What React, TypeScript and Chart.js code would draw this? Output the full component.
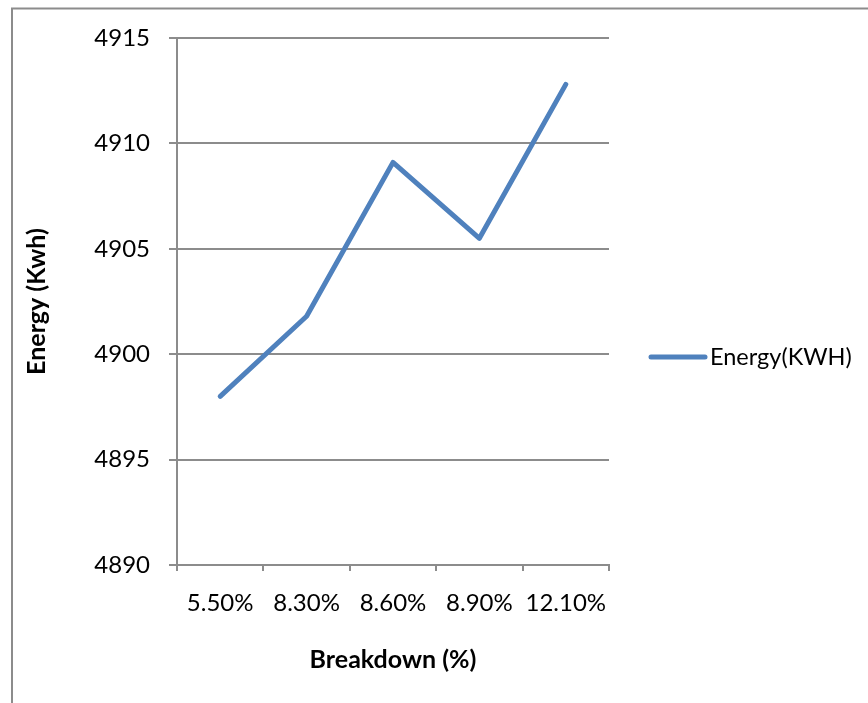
import React, { useEffect, useRef } from "react";
import { Chart, registerables } from "chart.js";

Chart.register(...registerables);

const categories = ["5.50%", "8.30%", "8.60%", "8.90%", "12.10%"];
const energyValues = [4898.0, 4901.8, 4909.1, 4905.5, 4912.8];
const seriesName = "Energy(KWH)";
const yMin = 4890;
const yMax = 4915;
const yStep = 5;
const xTitle = "Breakdown (%)";
const yTitle = "Energy (Kwh)";

const FONT = "Lato, 'Open Sans', sans-serif";
const GRID = "#8c8c8c";
const LINE = "#4f81bd";

// Outer frame drawn behind the chart
const framePlugin = {
  id: "frame",
  beforeDraw(chart: any) {
    const { ctx, width, height } = chart;
    ctx.save();
    ctx.strokeStyle = GRID;
    ctx.lineWidth = 2;
    ctx.beginPath();
    ctx.moveTo(12, height + 2);
    ctx.lineTo(12, 8.5);
    ctx.lineTo(width + 2, 8.5);
    ctx.stroke();
    ctx.restore();
  },
};

// Legend entry to the right of the plot area
const sideLegendPlugin = {
  id: "sideLegend",
  afterDraw(chart: any) {
    const { ctx, chartArea } = chart;
    const ds = chart.data.datasets[0];
    const y = 357;
    const x0 = chartArea.right + 42;
    ctx.save();
    ctx.strokeStyle = ds.borderColor;
    ctx.lineWidth = 5;
    ctx.lineCap = "round";
    ctx.beginPath();
    ctx.moveTo(x0, y);
    ctx.lineTo(x0 + 54, y);
    ctx.stroke();
    ctx.fillStyle = "#000";
    ctx.font = `23.5px ${FONT}`;
    ctx.textAlign = "left";
    ctx.textBaseline = "middle";
    ctx.fillText(ds.label, x0 + 59, y);
    ctx.restore();
  },
};

export default function App() {
  const canvasRef = useRef<HTMLCanvasElement | null>(null);

  useEffect(() => {
    if (!canvasRef.current) return;
    const chart = new Chart(canvasRef.current, {
      type: "line",
      data: {
        labels: categories,
        datasets: [
          {
            label: seriesName,
            data: energyValues,
            borderColor: LINE,
            backgroundColor: LINE,
            borderWidth: 5,
            borderCapStyle: "round",
            borderJoinStyle: "round",
            pointRadius: 0,
            tension: 0,
            fill: false,
          },
        ],
      },
      options: {
        responsive: false,
        animation: false,
        layout: { padding: { top: 38, right: 259, bottom: 0, left: 0 } },
        plugins: {
          legend: { display: false },
          tooltip: { enabled: false },
        },
        scales: {
          x: {
            type: "category",
            offset: true,
            grid: {
              offset: true,
              drawOnChartArea: false,
              drawTicks: true,
              tickLength: 6,
              color: GRID,
              lineWidth: 2,
            },
            border: { display: true, color: GRID, width: 2 },
            ticks: {
              color: "#000",
              font: { family: FONT, size: 24 },
              padding: 18,
              maxRotation: 0,
              autoSkip: false,
            },
            title: {
              display: true,
              text: xTitle,
              color: "#000",
              font: { family: FONT, size: 25, weight: "bold" },
              padding: { top: 0, bottom: 28 },
            },
            afterFit(scale: any) {
              scale.height = 138;
            },
          },
          y: {
            min: yMin,
            max: yMax,
            grid: {
              color: GRID,
              lineWidth: 2,
              tickLength: 8,
            },
            border: { display: true, color: GRID, width: 2 },
            ticks: {
              stepSize: yStep,
              color: "#000",
              font: { family: FONT, size: 24 },
              padding: 19,
              callback: (v: any) => String(v),
            },
            title: {
              display: true,
              text: yTitle,
              color: "#000",
              font: { family: FONT, size: 25, weight: "bold" },
              padding: { top: 22, bottom: 0 },
            },
            afterFit(scale: any) {
              scale.width = 177;
            },
          },
        },
      },
      plugins: [framePlugin, sideLegendPlugin],
    });
    return () => chart.destroy();
  }, []);

  return (
    <div style={{ position: "fixed", left: 0, top: 0, width: 868, height: 703, background: "#fff" }}>
      <canvas ref={canvasRef} width={868} height={703} style={{ display: "block" }} />
    </div>
  );
}
